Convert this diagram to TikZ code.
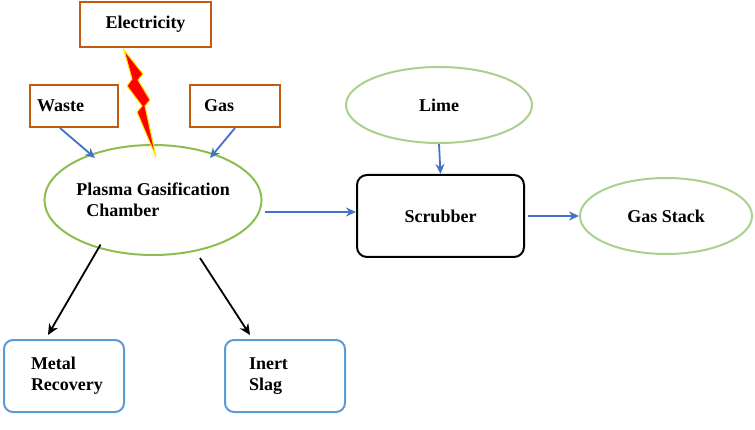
\documentclass[tikz,border=0pt]{standalone}
\usepackage{fontspec}
\setmainfont{Liberation Serif}
\usetikzlibrary{shapes.geometric,arrows.meta}
\definecolor{brn}{HTML}{C55A11}
\definecolor{grn}{HTML}{8CBE50}
\definecolor{lgrn}{HTML}{A9D18E}
\definecolor{blu}{HTML}{5B9BD5}
\definecolor{arr}{HTML}{4472C4}
\begin{document}
\begin{tikzpicture}[x=1pt,y=-1pt,
  txt/.style={font=\fontsize{18}{21}\selectfont\bfseries,align=left},
  ob/.style={draw=brn,line width=2pt,rectangle,minimum width=#1},
  gel/.style={draw=lgrn,line width=2pt,ellipse},
  bb/.style={draw=blu,line width=2pt,rounded corners=9pt,minimum width=120pt,minimum height=72pt},
  ba/.style={draw=arr,line width=1.8pt,-{Stealth[length=10pt,width=9pt]}},
  ka/.style={draw=black,line width=1.8pt,-{Stealth[length=11pt,width=10pt]}}]
\useasboundingbox (0,0) rectangle (755,430);
\node[ob=131pt,minimum height=45pt,txt] (el) at (145.5,24.5) {Electricity};
\node[ob=88pt,minimum height=42pt,txt,text width=74pt] (wa) at (74,106) {Waste};
\node[ob=90pt,minimum height=42pt,txt,text width=62pt] (ga) at (235,106) {Gas};
\node[draw=grn,line width=2pt,ellipse,minimum width=204pt,minimum height=110pt,txt,align=left,inner sep=0pt] (pl) at (153,200) {Plasma Gasification\\\hspace{10pt}Chamber};
\fill[red,draw=yellow!90!orange,line width=1pt] (124,50) -- (143,74) -- (138,80) -- (150,100) -- (145,106) -- (156,157) -- (137,112) -- (142,106) -- (127,86) -- (132,79) -- cycle;
\node[gel,minimum width=186pt,minimum height=76pt,txt] (li) at (439,105) {Lime};
\node[draw=black,line width=2pt,rounded corners=10pt,minimum width=167pt,minimum height=82pt,txt] (sc) at (440.5,216) {Scrubber};
\node[gel,minimum width=172pt,minimum height=76pt,txt] (gs) at (666,216) {Gas Stack};
\node[bb,txt,text width=102pt] (mr) at (64,376) {\hspace{18pt}Metal\\\hspace{18pt}Recovery};
\node[bb,txt,text width=100pt] (is) at (285,376) {\hspace{14pt}Inert\\\hspace{14pt}Slag};
\draw[ba] (wa.south) ++(-14,0) coordinate (w1) (w1) -- (95,158) coordinate (w2);
\draw[ba] (ga.south) coordinate (g1) (g1) -- (210,158) coordinate (g2);
\draw[ba] (li.south) -- (sc.north);
\draw[ba] (pl.east) ++(2,12) coordinate (p1) (p1) -- (sc.west |- p1);
\draw[ba] (sc.east) ++(3,0) coordinate (s1) (s1) -- (gs.west);
\draw[ka] (pl.south west) ++(25,5) coordinate (k1) (k1) -- (48,335) coordinate (k2);
\draw[ka] (200,258) coordinate (k3) -- (250,335) coordinate (k4);
\end{tikzpicture}
\end{document}
